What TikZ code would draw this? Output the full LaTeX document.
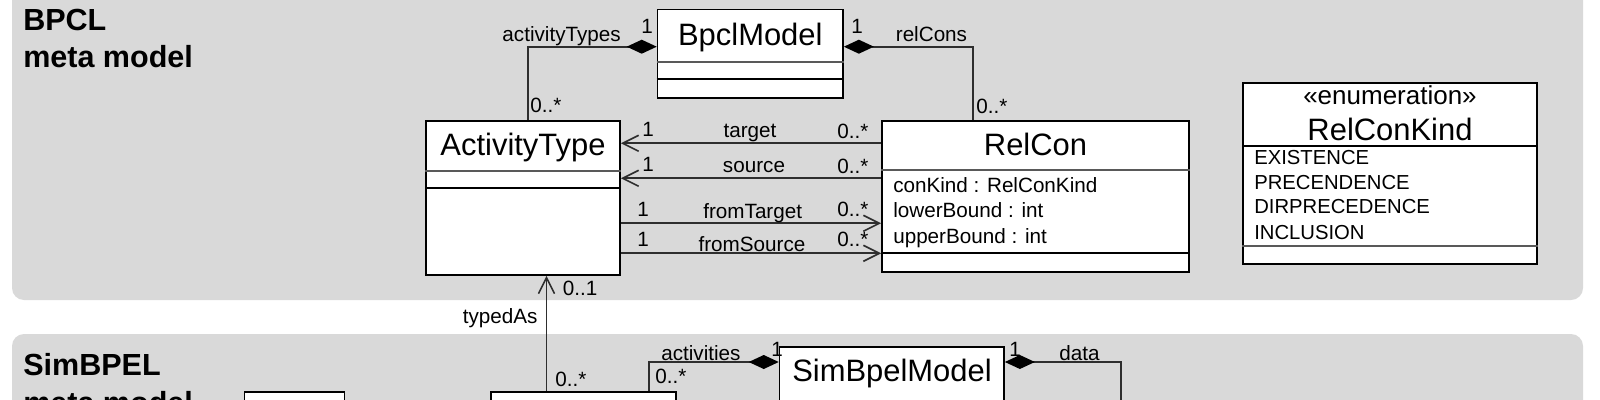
\documentclass[tikz,border=0pt]{standalone}
\usepackage{fontspec}
\setmainfont{Liberation Sans}
\usetikzlibrary{arrows.meta,fit,calc}
\definecolor{panelgray}{HTML}{D9D9D9}
\definecolor{linegray}{HTML}{2E2E2E}
\begin{document}
\begin{tikzpicture}[x=0.75pt,y=-0.75pt,
  box/.style={draw=black, fill=white, line width=1.3pt, inner sep=0pt},
  sepa/.style={draw=black!65, line width=1.3pt},
  sepb/.style={draw=black, line width=1.3pt},
  conn/.style={draw=linegray, line width=1.3pt},
  comp/.style={{Diamond[length=22.5pt,width=10.5pt,color=black,fill=black]}-},
  nav/.style={-{Straight Barb[length=12pt,width=12pt,line width=1.2pt]}},
  cname/.style={font=\fontsize{23.2}{26}\selectfont, inner sep=0pt, anchor=base},
  stereo/.style={font=\fontsize{19.5}{22}\selectfont, inner sep=0pt, anchor=base},
  lbl/.style={font=\fontsize{15.5}{18}\selectfont, inner sep=0pt, anchor=base west},
  lblc/.style={font=\fontsize{15.5}{18}\selectfont, inner sep=0pt, anchor=base},
  lble/.style={font=\fontsize{15.5}{18}\selectfont, inner sep=0pt, anchor=base east},
  attr/.style={font=\fontsize{15.5}{18}\selectfont, inner sep=0pt, anchor=base west},
  lit/.style={font=\fontsize{15.2}{18}\selectfont, inner sep=0pt, anchor=base west},
  ptitle/.style={font=\bfseries\fontsize{22.9}{28}\selectfont, inner sep=0pt, anchor=base west},
  panel/.style={fill=panelgray, rounded corners=9pt}]
\useasboundingbox (0,0) rectangle (1600,400);
\clip (0,0) rectangle (1600,400);

% panels
\fill[panel] (12,-40) rectangle (1583,300);
\fill[panel] (12,334) rectangle (1583,480);
\node[ptitle] (t1) at (23,30) {BPCL};
\node[ptitle] (t2) at (23,67) {meta model};
\node[ptitle] (t3) at (23,375) {SimBPEL};
\node[ptitle] (t4) at (23,413) {meta model};

% classes (top)
\node[box, fit={(657.6,9.5) (843,97.7)}] (bpcl) {};
\draw[sepa] (bpcl.west |- 0,62) -- (bpcl.east |- 0,62);
\draw[sepb] (bpcl.west |- 0,79) -- (bpcl.east |- 0,79);
\node[cname] (bpclname) at (750.3,45.7) {BpclModel};

\node[box, fit={(426,121) (620,275)}] (atype) {};
\draw[sepa] (atype.west |- 0,171) -- (atype.east |- 0,171);
\draw[sepb] (atype.west |- 0,188) -- (atype.east |- 0,188);
\node[cname] (atypename) at (523,155) {ActivityType};

\node[box, fit={(882,121) (1189,272)}] (relcon) {};
\draw[sepa] (relcon.west |- 0,170) -- (relcon.east |- 0,170);
\draw[sepb] (relcon.west |- 0,253.3) -- (relcon.east |- 0,253.3);
\node[cname] (relconname) at (1035.5,155) {RelCon};
\node[attr] (a1) at (893,192) {conKind : RelConKind};
\node[attr] (a2) at (893,217.7) {lowerBound : int};
\node[attr] (a3) at (893,243) {upperBound : int};

\node[box, fit={(1243,83) (1537,264)}] (enum) {};
\draw[sepb] (enum.west |- 0,146) -- (enum.east |- 0,146);
\draw[sepa] (enum.west |- 0,245.7) -- (enum.east |- 0,245.7);
\node[stereo] (enumst) at (1390,104) {«enumeration»};
\node[cname] (enumname) at (1390,140) {RelConKind};
\node[lit] (e1) at (1254,164.3) {EXISTENCE};
\node[lit] (e2) at (1254,189.3) {PRECENDENCE};
\node[lit] (e3) at (1254,213.5) {DIRPRECEDENCE};
\node[lit] (e4) at (1254,239) {INCLUSION};

% classes (bottom)
\node[box, fit={(244.6,392) (344.6,470)}] (sb1) {};
\node[box, fit={(491,392) (676,470)}] (sb2) {};
\node[box, fit={(779.6,347.3) (1004,470)}] (simm) {};
\node[cname] (simmname) at (892,381.7) {SimBpelModel};

% connectors
\draw[conn,comp] (bpcl.west |- 0,46.7) -| (atype.north -| 528,0);
\node[lble] (l1) at (621,41.7) {activityTypes};
\node[lbl] (l2) at (641,33.5) {1};
\node[lbl] (l3) at (530,112) {0..*};

\draw[conn,comp] (bpcl.east |- 0,46.7) -| (relcon.north -| 973,0);
\node[lbl] (l4) at (851,33.5) {1};
\node[lbl] (l5) at (895.6,41.7) {relCons};
\node[lbl] (l6) at (976,113) {0..*};

\draw[conn,nav] (relcon.west |- 0,143.3) -- (atype.east |- 0,143.3);
\node[lblc] (l7) at (750,137) {target};
\node[lbl] (l8) at (642,136) {1};
\node[lbl] (l9) at (837,138) {0..*};

\draw[conn,nav] (relcon.west |- 0,178.3) -- (atype.east |- 0,178.3);
\node[lblc] (l10) at (754,172.7) {source};
\node[lbl] (l11) at (642,171) {1};
\node[lbl] (l12) at (837,173) {0..*};

\draw[conn,nav] (atype.east |- 0,223.3) -- (relcon.west |- 0,223.3);
\node[lblc] (l13) at (752.7,218) {fromTarget};
\node[lbl] (l14) at (637,216.7) {1};
\node[lbl] (l15) at (837,216.7) {0..*};

\draw[conn,nav] (atype.east |- 0,253.3) -- (relcon.west |- 0,253.3);
\node[lblc] (l16) at (752,251.7) {fromSource};
\node[lbl] (l17) at (637,246.7) {1};
\node[lbl] (l18) at (837,246.7) {0..*};

\coordinate (ta) at (546.5,0);
\draw[conn,nav] (sb2.north -| ta) -- (atype.south -| ta);
\node[lbl] (l19) at (562.6,295) {0..1};
\node[lble] (l20) at (537.7,323.3) {typedAs};
\node[lbl] (l21) at (555,386.7) {0..*};

\draw[conn,comp] (simm.west |- 0,362) -| (sb2.north -| 649,0);
\node[lbl] (l22) at (661,360) {activities};
\node[lbl] (l23) at (771,356.7) {1};
\node[lbl] (l24) at (655,383.3) {0..*};

\coordinate (dataend) at (1121,480);
\draw[conn,comp] (simm.east |- 0,362) -| (dataend);
\node[lbl] (l25) at (1009,356) {1};
\node[lbl] (l26) at (1059,360) {data};
\end{tikzpicture}
\end{document}
